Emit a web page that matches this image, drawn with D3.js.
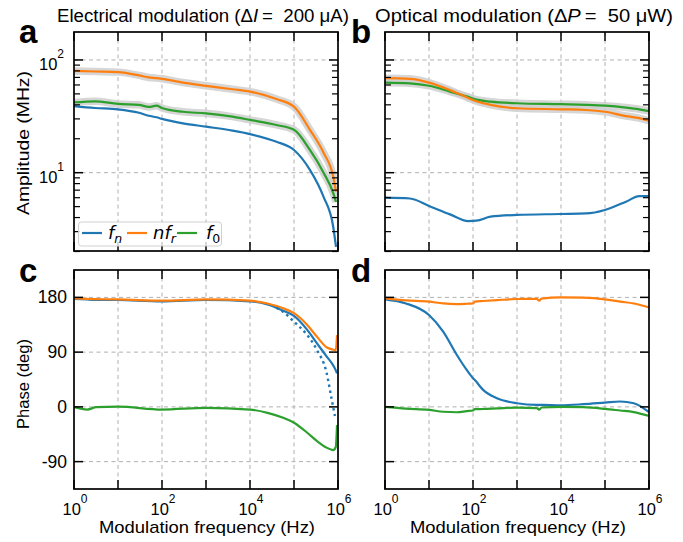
<!DOCTYPE html>
<html><head><meta charset="utf-8">
<script src="https://cdn.jsdelivr.net/npm/d3@7"></script>
<style>
body{margin:0;background:#fff;}
svg{display:block;font-family:"Liberation Sans",Arial,sans-serif;}
</style></head><body>
<svg id="chart" width="683" height="542"></svg>
<script>
// ---------- data ----------
const ampTicks = [10, 100];
const ampMinor = [2,3,4,5,6,7,8,9,20,30,40,50,60,70,80,90];
const phaseTicks = [180, 90, 0, -90];
const freqTicks = [1, 10, 100, 1000, 10000, 100000, 1000000];
const seriesNames = ["f_n", "nf_r", "f_0"];
const colors = ["#1f77b4", "#ff7f0e", "#2ca02c"];

// panel a: electrical amplitude (MHz)
const freqA = [1, 3, 10, 30, 50, 75, 100, 300, 1000, 4000, 10000, 40000, 100000, 230000, 470000, 780000, 900000];
const ampA_fn  = [39, 37.5, 36.5, 34, 32, 31, 30, 27.4, 25.6, 23.6, 22, 18.8, 15.9, 10.6, 6.1, 3.3, 2.2];
const ampA_nfr = [80, 79, 78, 73, 70, 69, 68, 63, 59, 55, 52.4, 45, 38.5, 24, 15, 9.2, 6.8];
const ampA_f0  = [42, 43, 40.7, 40, 38.3, 39.3, 37.5, 34.7, 33.6, 31.4, 29.4, 26.5, 24, 15.9, 10, 6.6, 5.5];

// panel b: optical amplitude (MHz)
const freqB = [1, 3.7, 10, 30, 78, 120, 250, 1000, 10000, 37000, 100000, 300000, 600000, 1000000];
const ampB_fn  = [6.0, 5.9, 5.07, 4.27, 3.72, 3.75, 4.07, 4.22, 4.3, 4.35, 4.67, 5.53, 6.2, 6.2];
const ampB_nfr = [68.9, 68, 63, 54, 46, 43, 40, 37.3, 36.5, 36, 34.7, 31.8, 30.5, 28.9];
const ampB_f0  = [63, 62, 59, 52.4, 47, 44.5, 42.7, 41.3, 40.5, 40, 39.3, 37.8, 36.5, 35.2];

// panel c: electrical phase (deg)
const freqC = [1, 2, 3.2, 10, 100, 1000, 10000, 25000, 57000, 100000, 200000, 330000, 550000, 780000, 890000, 950000];
const phC_fn  = [177.5, 176.5, 176, 175.7, 173.5, 175.7, 173.5, 168.5, 158, 149.5, 126.5, 104.7, 83, 68, 60, 55];
const phC_nfr = [178.4, 177.5, 177, 176.7, 174.5, 176.7, 174.5, 170, 162, 154, 134.7, 115.6, 98, 94, 93, 118];
const phC_f0  = [-0.5, -4.4, -0.5, 0.5, -4.4, -1.6, -4.4, -9.8, -18, -26, -42.5, -56, -67, -71, -66, -30];
const freqC_dot = [40000, 57000, 100000, 200000, 330000, 550000, 720000, 850000];
const phC_fnDot = [163, 156, 140, 118, 94, 56, 12, -15];

// panel d: optical phase (deg)
const freqD = [1, 3, 10, 21, 43, 72, 100, 110, 170, 350, 1000, 2800, 3200, 3600, 10000, 32000, 100000, 220000, 450000, 1000000];
const phD_fn  = [176.7, 170, 151, 123.6, 85.3, 60.7, 47, 44, 27.9, 14.2, 6, 3.3, 3.3, 3.3, 2.7, 4.4, 7, 8.8, 6, -8.8];
const phD_nfr = [178.4, 175, 172.9, 170, 169, 169.5, 170, 173, 174, 175.5, 177.3, 177.5, 174.5, 178, 180, 179.5, 176.7, 173, 170, 163.6];
const phD_f0  = [0, -3, -5, -8, -8.8, -7, -6, -3.8, -3.5, -2.5, -1.1, -2, -4.5, -1, 0, -0.5, -3.3, -6, -8.5, -14.8];

// ---------- drawing ----------
const svg = d3.select("#chart");
const panels = [
  {id:"a", x0:74, x1:338, y0:32, y1:251, type:"amp", f:freqA, s:[ampA_fn, ampA_nfr, ampA_f0], labels:true},
  {id:"b", x0:385, x1:649, y0:32, y1:251, type:"amp", f:freqB, s:[ampB_fn, ampB_nfr, ampB_f0], labels:false},
  {id:"c", x0:74, x1:338, y0:270, y1:489, type:"ph", f:freqC, s:[phC_fn, phC_nfr, phC_f0], labels:true},
  {id:"d", x0:385, x1:649, y0:270, y1:489, type:"ph", f:freqD, s:[phD_fn, phD_nfr, phD_f0], labels:false}
];

panels.forEach(p => {
  const g = svg.append("g");
  const x = d3.scaleLog().domain([1, 1e6]).range([p.x0, p.x1]);
  const y = p.type === "amp"
    ? d3.scaleLog().domain([2.02, 177]).range([p.y1, p.y0])
    : d3.scaleLinear().domain([-135, 225]).range([p.y1, p.y0]);
  const yMajor = p.type === "amp" ? ampTicks : phaseTicks;

  const cid = "clip" + p.id;
  svg.append("clipPath").attr("id", cid).append("rect")
    .attr("x", p.x0).attr("y", p.y0).attr("width", p.x1 - p.x0).attr("height", p.y1 - p.y0);

  // grid
  const grid = g.append("g").attr("stroke", "#b0b0b0").attr("stroke-width", 1).attr("stroke-dasharray", "4,3.5");
  freqTicks.slice(1, -1).forEach(t => grid.append("line").attr("x1", x(t)).attr("x2", x(t)).attr("y1", p.y0).attr("y2", p.y1));
  yMajor.forEach(t => grid.append("line").attr("x1", p.x0).attr("x2", p.x1).attr("y1", y(t)).attr("y2", y(t)));

  // curves
  const cg = g.append("g").attr("clip-path", `url(#${cid})`);
  const line = d3.line().x((d, i) => x(p.f[i])).y(d => y(d)).curve(d3.curveMonotoneX);
  if (p.type === "amp") {
    [1, 2].forEach(k => cg.append("path").attr("d", line(p.s[k])).attr("fill", "none")
      .attr("stroke", "#cfcfcf").attr("stroke-width", 7.5).attr("stroke-opacity", 0.85).attr("stroke-linejoin", "round"));
  }
  const order = p.type === "amp" ? [0, 2, 1] : [0, 1, 2];
  order.forEach(k => cg.append("path").attr("d", line(p.s[k])).attr("fill", "none")
    .attr("stroke", colors[k]).attr("stroke-width", 2.2).attr("stroke-linejoin", "round"));
  if (p.id === "c") {
    const dl = d3.line().x((d, i) => x(freqC_dot[i])).y(d => y(d)).curve(d3.curveMonotoneX);
    cg.append("path").attr("d", dl(phC_fnDot)).attr("fill", "none").attr("stroke", colors[0])
      .attr("stroke-width", 2.4).attr("stroke-dasharray", "2.5,3.5");
  }

  // ticks (inward, all sides)
  const tk = g.append("g").attr("stroke", "#000").attr("stroke-width", 1.5);
  freqTicks.forEach(t => {
    tk.append("line").attr("x1", x(t)).attr("x2", x(t)).attr("y1", p.y1).attr("y2", p.y1 - 9);
    tk.append("line").attr("x1", x(t)).attr("x2", x(t)).attr("y1", p.y0).attr("y2", p.y0 + 9);
  });
  yMajor.forEach(t => {
    tk.append("line").attr("x1", p.x0).attr("x2", p.x0 + 9).attr("y1", y(t)).attr("y2", y(t));
    tk.append("line").attr("x1", p.x1).attr("x2", p.x1 - 9).attr("y1", y(t)).attr("y2", y(t));
  });
  if (p.type === "amp") {
    ampMinor.forEach(t => {
      tk.append("line").attr("stroke-width", 1.2).attr("x1", p.x0).attr("x2", p.x0 + 6).attr("y1", y(t)).attr("y2", y(t));
      tk.append("line").attr("stroke-width", 1.2).attr("x1", p.x1).attr("x2", p.x1 - 6).attr("y1", y(t)).attr("y2", y(t));
    });
  }

  // frame
  g.append("rect").attr("x", p.x0).attr("y", p.y0).attr("width", p.x1 - p.x0).attr("height", p.y1 - p.y0)
    .attr("fill", "none").attr("stroke", "#000").attr("stroke-width", 1.7);

  // y tick labels
  if (p.labels) {
    if (p.type === "amp") {
      ampTicks.forEach(t => {
        const tx = g.append("text").attr("x", p.x0 - 10).attr("y", y(t) + 10).attr("text-anchor", "end").attr("font-size", 16.5);
        tx.append("tspan").text("10");
        tx.append("tspan").attr("dy", -12).attr("font-size", 12).text(Math.round(Math.log10(t)));
      });
    } else {
      phaseTicks.forEach(t => g.append("text").attr("x", p.x0 - 7).attr("y", y(t) + 6)
        .attr("text-anchor", "end").attr("font-size", 17.5).text(t));
    }
  }
  // x tick labels
  if (p.type === "ph") {
    [1, 100, 10000, 1000000].forEach(t => {
      const tx = g.append("text").attr("x", x(t) + 1).attr("y", p.y1 + 26).attr("text-anchor", "middle").attr("font-size", 16.5);
      tx.append("tspan").text("10");
      tx.append("tspan").attr("dy", -12.5).attr("font-size", 12).text(Math.round(Math.log10(t)));
    });
    g.append("text").attr("x", (p.x0 + p.x1) / 2 + 1).attr("y", 533).attr("text-anchor", "middle")
      .attr("font-size", 17).attr("textLength", 216).attr("lengthAdjust", "spacingAndGlyphs")
      .text("Modulation frequency (Hz)");
  }
  // panel letter
  g.append("text").attr("x", p.x0 - 55 + (p.labels ? 0 : 21)).attr("y", p.y0 + (p.type === "amp" ? 11 : 12))
    .attr("font-size", 33).attr("font-weight", "bold").text(p.id);
});

// y axis titles
svg.append("text").attr("transform", "translate(29,143) rotate(-90)").attr("text-anchor", "middle")
  .attr("font-size", 17).attr("textLength", 144).attr("lengthAdjust", "spacingAndGlyphs").text("Amplitude (MHz)");
svg.append("text").attr("transform", "translate(29,384) rotate(-90)").attr("text-anchor", "middle")
  .attr("font-size", 17).attr("textLength", 90).attr("lengthAdjust", "spacingAndGlyphs").text("Phase (deg)");

// titles
function title(xc, len, pre, sym, val) {
  const t = svg.append("text").attr("x", xc).attr("y", 22).attr("text-anchor", "middle").attr("font-size", 17.5)
    .attr("textLength", len).attr("lengthAdjust", "spacingAndGlyphs");
  t.append("tspan").text(pre + " (Δ");
  t.append("tspan").attr("font-style", "italic").text(sym);
  t.append("tspan").text("\u2009=\u00a0\u00a0" + val + ")");
}
title(203, 292, "Electrical modulation", "I", "200 μA");
title(524, 298, "Optical modulation", "P", "50 μW");

// legend
const lg = svg.append("g");
lg.append("rect").attr("x", 78.5).attr("y", 222).attr("width", 143).attr("height", 24).attr("rx", 3)
  .attr("fill", "#fff").attr("fill-opacity", 0.8).attr("stroke", "#d0d0d0").attr("stroke-width", 1);
const legX = [82, 127, 177];
const legLab = [["f", "n", ""], ["nf", "r", ""], ["f", "0", "up"]];
seriesNames.forEach((n, i) => {
  lg.append("line").attr("x1", legX[i]).attr("x2", legX[i] + 20).attr("y1", 233).attr("y2", 233)
    .attr("stroke", colors[i]).attr("stroke-width", 2.2);
  const t = lg.append("text").attr("x", legX[i] + 26 + (i === 2 ? 3 : 0)).attr("y", 239).attr("font-size", 18)
    .attr("font-family", "'DejaVu Sans',sans-serif");
  t.append("tspan").attr("font-style", "italic").text(legLab[i][0]);
  t.append("tspan").attr("dy", 4).attr("font-size", 12.5)
    .attr("font-style", legLab[i][2] === "up" ? "normal" : "italic").text(legLab[i][1]);
});
</script>
</body></html>
